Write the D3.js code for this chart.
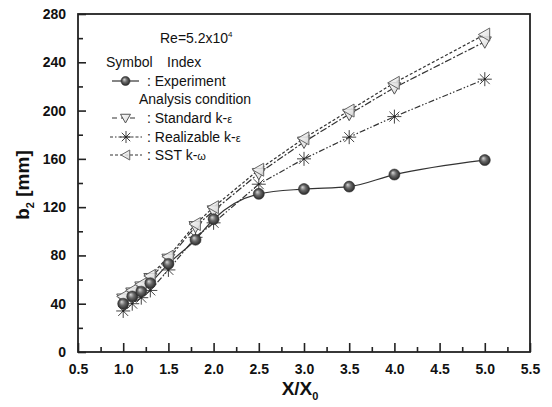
<!DOCTYPE html>
<html>
<head>
<meta charset="utf-8">
<script src="https://cdn.jsdelivr.net/npm/d3@7"></script>
<style>
  html, body { margin: 0; padding: 0; background: #fff; }
  svg { display: block; font-family: Arial, "Liberation Sans", sans-serif; }
</style>
</head>
<body>
<svg id="chart" width="552" height="407"></svg>
<script>
// Jet width b2 along the axial distance X/X0
const xRatio      = [1.0, 1.1, 1.2, 1.3, 1.5, 1.8, 2.0, 2.5, 3.0, 3.5, 4.0, 5.0];
const experiment  = [40, 46, 50, 57, 73, 93, 110, 131, 135, 137, 147, 159];
const standardKE  = [44, 49, 54, 61, 77, 104, 117, 148, 174, 197, 219, 257];
const realizableKE= [34, 40, 45, 51, 68, 95, 107, 139, 160, 178, 195, 226];
const sstKW       = [46, 51, 56, 63, 79, 106, 120, 151, 177, 200, 223, 263];

const xMajorTicks = [0.5, 1.0, 1.5, 2.0, 2.5, 3.0, 3.5, 4.0, 4.5, 5.0, 5.5];
const yMajorTicks = [0, 40, 80, 120, 160, 200, 240, 280];

const svg = d3.select("#chart");
const M = { left: 78, right: 530, top: 14, bottom: 352 };

const x = d3.scaleLinear().domain([0.5, 5.5]).range([M.left, M.right]);
const y = d3.scaleLinear().domain([0, 280]).range([M.bottom, M.top]);

const defs = svg.append("defs");
const sphere = defs.append("radialGradient").attr("id", "sphere")
  .attr("cx", "50%").attr("cy", "50%").attr("r", "55%")
  .attr("fx", "35%").attr("fy", "32%");
sphere.append("stop").attr("offset", "0%").attr("stop-color", "#d8d8d8");
sphere.append("stop").attr("offset", "45%").attr("stop-color", "#6a6a6a");
sphere.append("stop").attr("offset", "100%").attr("stop-color", "#1e1e1e");
const tri = defs.append("linearGradient").attr("id", "tri")
  .attr("x1", "0%").attr("y1", "0%").attr("x2", "100%").attr("y2", "100%");
tri.append("stop").attr("offset", "0%").attr("stop-color", "#ffffff");
tri.append("stop").attr("offset", "100%").attr("stop-color", "#d4d4d4");

// Axes: ticks pointing inward on the bottom and left
const xAxis = d3.axisBottom(x).tickValues(xMajorTicks).tickSize(-9).tickPadding(12)
  .tickFormat(d3.format(".1f"));
const xMinor = d3.axisBottom(x).tickValues(d3.range(0.75, 5.5, 0.5)).tickSize(-5).tickFormat("");
const yAxis = d3.axisLeft(y).tickValues(yMajorTicks).tickSize(-8).tickPadding(12)
  .tickFormat(d3.format("d"));
const yMinor = d3.axisLeft(y).tickValues(d3.range(20, 280, 40)).tickSize(-5).tickFormat("");

function styleAxis(g) {
  g.select(".domain").remove();
  g.selectAll(".tick line").attr("stroke", "#222").attr("stroke-width", 1.6);
  g.selectAll(".tick text").attr("fill", "#111").style("font-size", "14px")
    .style("font-weight", "bold");
}
svg.append("g").attr("transform", `translate(0,${M.bottom})`).call(xAxis).call(styleAxis);
svg.append("g").attr("transform", `translate(0,${M.bottom})`).call(xMinor).call(styleAxis);
svg.append("g").attr("transform", `translate(${M.left},0)`).call(yAxis).call(styleAxis);
svg.append("g").attr("transform", `translate(${M.left},0)`).call(yMinor).call(styleAxis);

// Frame
svg.append("rect").attr("x", M.left).attr("y", M.top)
  .attr("width", M.right - M.left).attr("height", M.bottom - M.top)
  .attr("fill", "none").attr("stroke", "#222").attr("stroke-width", 1.8);

// Axis titles
const xt = svg.append("text").attr("x", 300).attr("y", 395).attr("text-anchor", "middle")
  .style("font-size", "19px").style("font-weight", "bold").attr("fill", "#111");
xt.append("tspan").text("X/X");
xt.append("tspan").attr("dy", 5).style("font-size", "11px").text("0");

const yt = svg.append("text").attr("transform", "translate(29,185) rotate(-90)")
  .attr("text-anchor", "middle").style("font-size", "19px").style("font-weight", "bold")
  .attr("fill", "#111");
yt.append("tspan").text("b");
yt.append("tspan").attr("dy", 5).style("font-size", "11px").text("2");
yt.append("tspan").attr("dy", -5).text(" [mm]");

// Marker drawers
function drawSphere(g, cx, cy, r) {
  g.append("circle").attr("cx", cx).attr("cy", cy).attr("r", r)
    .attr("fill", "url(#sphere)").attr("stroke", "#333").attr("stroke-width", 0.6);
}
function drawDown(g, cx, cy, s) {
  g.append("path").attr("d", `M${cx - s},${cy - s * 0.75}L${cx + s},${cy - s * 0.75}L${cx},${cy + s}Z`)
    .attr("fill", "url(#tri)").attr("stroke", "#555").attr("stroke-width", 1);
}
function drawLeft(g, cx, cy, s) {
  g.append("path").attr("d", `M${cx - s},${cy}L${cx + s * 0.75},${cy - s}L${cx + s * 0.75},${cy + s}Z`)
    .attr("fill", "url(#tri)").attr("fill-opacity", 0.85).attr("stroke", "#666").attr("stroke-width", 1);
}
function drawStar(g, cx, cy, r) {
  const d = d3.range(8).map(i => {
    const a = i * Math.PI / 4;
    return `M${cx},${cy}L${cx + r * Math.cos(a)},${cy + r * Math.sin(a)}`;
  }).join("");
  g.append("path").attr("d", d).attr("stroke", "#444").attr("stroke-width", 1).attr("fill", "none");
  g.append("circle").attr("cx", cx).attr("cy", cy).attr("r", 1.1).attr("fill", "#222");
}

const series = [
  { name: "SST k-ω", values: sstKW, dash: "3,2", curve: d3.curveLinear, marker: drawLeft, size: 6.5 },
  { name: "Standard k-ε", values: standardKE, dash: "7,2,2,2", curve: d3.curveLinear, marker: drawDown, size: 6.5 },
  { name: "Realizable k-ε", values: realizableKE, dash: "6,2,1.5,2,1.5,2", curve: d3.curveLinear, marker: drawStar, size: 7 },
  { name: "Experiment", values: experiment, dash: null, curve: d3.curveMonotoneX, marker: drawSphere, size: 5.5 }
];

const plot = svg.append("g");
series.forEach(s => {
  const pts = xRatio.map((xv, i) => [xv, s.values[i]]);
  const line = d3.line().x(d => x(d[0])).y(d => y(d[1])).curve(s.curve);
  plot.append("path").datum(pts).attr("d", line).attr("fill", "none")
    .attr("stroke", "#333").attr("stroke-width", 1.2)
    .attr("stroke-dasharray", s.dash);
});
// markers drawn after lines, experiment on top
[series[2], series[1], series[0], series[3]].forEach(s => {
  const g = plot.append("g");
  xRatio.forEach((xv, i) => s.marker(g, x(xv), y(s.values[i]), s.size));
});

// Annotation and legend
const re = svg.append("text").attr("x", 160).attr("y", 43).style("font-size", "14px").attr("fill", "#111");
re.append("tspan").text("Re=5.2x10");
re.append("tspan").attr("dy", -6).style("font-size", "8px").text("4");

const leg = svg.append("g").style("font-size", "14px").attr("fill", "#111");
leg.append("text").attr("x", 106).attr("y", 67).text("Symbol");
leg.append("text").attr("x", 167).attr("y", 67).text("Index");
leg.append("text").attr("x", 139).attr("y", 104).text("Analysis condition");

const rows = [
  { y: 81, label: "Experiment", dash: null, marker: drawSphere, size: 4.5, x0: 112, x1: 139 },
  { y: 118, label: "Standard k-", greek: "ε", dash: "5,4", marker: drawDown, size: 5, x0: 112, x1: 139 },
  { y: 137, label: "Realizable k-", greek: "ε", dash: "3,2,1.5,2", marker: drawStar, size: 6, x0: 110, x1: 142 },
  { y: 155, label: "SST k-", greek: "ω", dash: "3,2", marker: drawLeft, size: 5, x0: 110, x1: 142 }
];
rows.forEach(r => {
  leg.append("line").attr("x1", r.x0).attr("x2", r.x1).attr("y1", r.y).attr("y2", r.y)
    .attr("stroke", "#333").attr("stroke-width", 1.2).attr("stroke-dasharray", r.dash);
  r.marker(leg, (r.x0 + r.x1) / 2, r.y, r.size);
  const t = leg.append("text").attr("x", 147).attr("y", r.y + 5);
  t.append("tspan").text(": " + r.label);
  if (r.greek) t.append("tspan").style("font-size", "11px").text(r.greek);
});
</script>
</body>
</html>
